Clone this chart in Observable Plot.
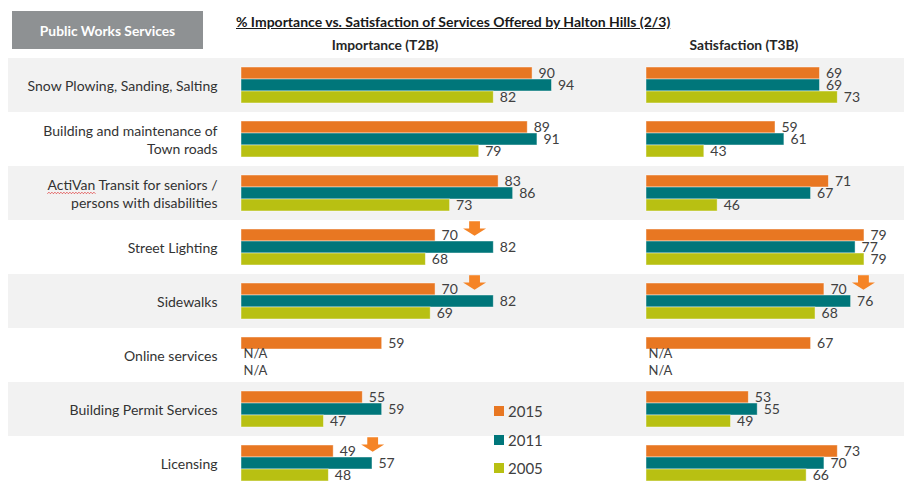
<!DOCTYPE html>
<html><head><meta charset="utf-8">
<script src="https://cdn.jsdelivr.net/npm/d3@7"></script>
<script src="https://cdn.jsdelivr.net/npm/@observablehq/plot@0.6"></script>
<style>
html,body{margin:0;padding:0;background:#fff;overflow:hidden;}
#root{position:relative;width:904px;height:481px;font-family:Lato, sans-serif;color:#404040;overflow:hidden;background:#fff;}
.tag{position:absolute;left:12px;top:11px;width:191px;height:38px;background:#8e9193;color:#fff;font-weight:700;font-size:13.8px;display:flex;align-items:center;justify-content:center;}
.title{position:absolute;left:236px;top:13px;font-weight:700;font-size:14px;text-decoration:underline;color:#1a1a1a;white-space:nowrap;}
.sub{position:absolute;top:36px;font-weight:700;font-size:13.8px;color:#262626;transform:translateX(-50%);white-space:nowrap;}
#plotA{position:absolute;left:0;top:56px;}
#plotB{position:absolute;left:600px;top:56px;}
.legend{position:absolute;left:494px;top:397px;}
.item{display:flex;align-items:center;height:28.5px;font-size:15px;color:#404040;}
.sw{width:10px;height:10px;margin-right:4px;}
</style></head><body>
<div id="root">
  <div class="tag" id="tag"></div>
  <div class="title" id="title"></div>
  <div class="sub" id="subA" style="left:385px"></div>
  <div class="sub" id="subB" style="left:744px"></div>
  <div id="plotA"></div>
  <div id="plotB"></div>
  <div class="legend" id="legend"></div>
</div>
<script>
const tagText = "Public Works Services";
const titleText = "% Importance vs. Satisfaction of Services Offered by Halton Hills (2/3)";
const panels = ["Importance (T2B)", "Satisfaction (T3B)"];
const categories = [
  "Snow Plowing, Sanding, Salting",
  "Building and maintenance of\nTown roads",
  "ActiVan Transit for seniors /\npersons with disabilities",
  "Street Lighting",
  "Sidewalks",
  "Online services",
  "Building Permit Services",
  "Licensing"
];
const years = ["2015", "2011", "2005"];
const colors = ["#e87722", "#00767a", "#b8c012"];
const importance2015 = [90, 89, 83, 70, 70, 59, 55, 49];
const importance2011 = [94, 91, 86, 82, 82, null, 59, 57];
const importance2005 = [82, 79, 73, 68, 69, null, 47, 48];
const satisfaction2015 = [69, 59, 71, 79, 70, 67, 53, 73];
const satisfaction2011 = [69, 61, 67, 77, 76, null, 55, 70];
const satisfaction2005 = [73, 43, 46, 79, 68, null, 49, 66];
const arrows = [
  {panel: "Importance (T2B)", cat: "Street Lighting", year: "2015"},
  {panel: "Importance (T2B)", cat: "Sidewalks", year: "2015"},
  {panel: "Importance (T2B)", cat: "Licensing", year: "2015"},
  {panel: "Satisfaction (T3B)", cat: "Sidewalks", year: "2015"}
];

document.getElementById("tag").textContent = tagText;
document.getElementById("title").textContent = titleText;
document.getElementById("subA").textContent = panels[0];
document.getElementById("subB").textContent = panels[1];

const legend = document.getElementById("legend");
years.forEach((y, i) => {
  const it = document.createElement("div"); it.className = "item";
  const sw = document.createElement("div"); sw.className = "sw"; sw.style.background = colors[i];
  const t = document.createElement("span"); t.textContent = y;
  it.appendChild(sw); it.appendChild(t); legend.appendChild(it);
});

// block down-arrow symbol
const arrowSymbol = {
  draw(ctx, size) {
    const r = Math.sqrt(size / Math.PI);
    const h = 0.62 * r, s = 0.47 * r;
    ctx.moveTo(-s, -h);
    ctx.lineTo(s, -h);
    ctx.lineTo(s, 0);
    ctx.lineTo(r, 0);
    ctx.lineTo(0, h);
    ctx.lineTo(-r, 0);
    ctx.lineTo(-s, 0);
    ctx.closePath();
  }
};

function makePanel(name, series, opts) {
  const data = categories.flatMap((c, i) => years.map((y, j) => ({cat: c, year: y, value: series[j][i]})));
  const valid = data.filter(d => d.value != null);
  const na = data.filter(d => d.value == null);
  const [xMin, xMax] = opts.domain;
  const bg = categories.filter((c, i) => i % 2 === 0).map(c => ({cat: c}));
  const arr = arrows.filter(a => a.panel === name).map(a => ({...a, value: data.find(d => d.cat === a.cat && d.year === a.year).value}));
  const marks = [
    Plot.barX(bg, {fy: "cat", x1: () => xMin, x2: () => xMax, fill: "#f2f2f2", insetLeft: opts.bgInset}),
    Plot.barX(valid, {fy: "cat", y: "year", x1: () => xMin, x2: "value", fill: "year", stroke: "#ffffff", strokeWidth: 0.8, strokeOpacity: 0.55}),
    Plot.text(valid, {fy: "cat", y: "year", x: "value", text: d => String(d.value), dx: 6, textAnchor: "start", fontSize: 14, fill: "#404040"}),
    Plot.text(na.filter(d => d.year === years[1]), {fy: "cat", y: "year", x: () => xMin, text: () => "N/A", dx: 2, dy: -2, textAnchor: "start", fontSize: 13, fill: "#404040"}),
    Plot.text(na.filter(d => d.year === years[2]), {fy: "cat", y: "year", x: () => xMin, text: () => "N/A", dx: 2, dy: 3, textAnchor: "start", fontSize: 13, fill: "#404040"}),
    Plot.dot(arr, {fy: "cat", y: "year", x: "value", symbol: arrowSymbol, r: 11.5, dx: 39, dy: -7, fill: "#f58426", stroke: "none"})
  ];
  if (opts.axis) {
    marks.push(Plot.axisFy({anchor: "left", tickSize: 0, tickPadding: 24, fontSize: 14, label: null, lineHeight: 1.3, fill: "#333333"}));
  }
  return Plot.plot({
    width: opts.width, height: 436,
    marginLeft: opts.marginLeft, marginRight: 0, marginTop: 0, marginBottom: 0,
    x: {domain: opts.domain, axis: null},
    y: {domain: years, axis: null, paddingInner: 0, paddingOuter: 0.62},
    fy: {domain: categories, axis: null, paddingInner: 0, paddingOuter: 0},
    color: {domain: years, range: colors},
    style: {fontFamily: "Lato, sans-serif", overflow: "visible", background: "transparent"},
    marks
  });
}

const svgA = makePanel(panels[0], [importance2015, importance2011, importance2005], {width: 600, marginLeft: 241, domain: [30, 104], bgInset: -233, axis: true});
const svgB = makePanel(panels[1], [satisfaction2015, satisfaction2011, satisfaction2005], {width: 304, marginLeft: 46, domain: [30, 88], bgInset: -46, axis: false});
document.getElementById("plotA").appendChild(svgA);
document.getElementById("plotB").appendChild(svgB);

// spell-check style red wavy underline under "ActiVan"
d3.select(svgA).selectAll("text").each(function() {
  if (!this.textContent.startsWith("ActiVan")) return;
  try {
    const p0 = this.getStartPositionOfChar(0);
    const p1 = this.getEndPositionOfChar(6);
    const y0 = p0.y + 2;
    let d = `M${p0.x},${y0 + 1.5}`;
    let k = 0;
    for (let x = p0.x; x < p1.x; x += 1.5, k++) d += `L${x + 1.5},${y0 + (k % 2 ? 1.5 : 0)}`;
    d3.select(this.parentNode).append("path")
      .attr("transform", this.getAttribute("transform"))
      .attr("d", d).attr("fill", "none").attr("stroke", "#e03a3a").attr("stroke-width", 0.8);
  } catch (e) {}
});
</script>
</body></html>
